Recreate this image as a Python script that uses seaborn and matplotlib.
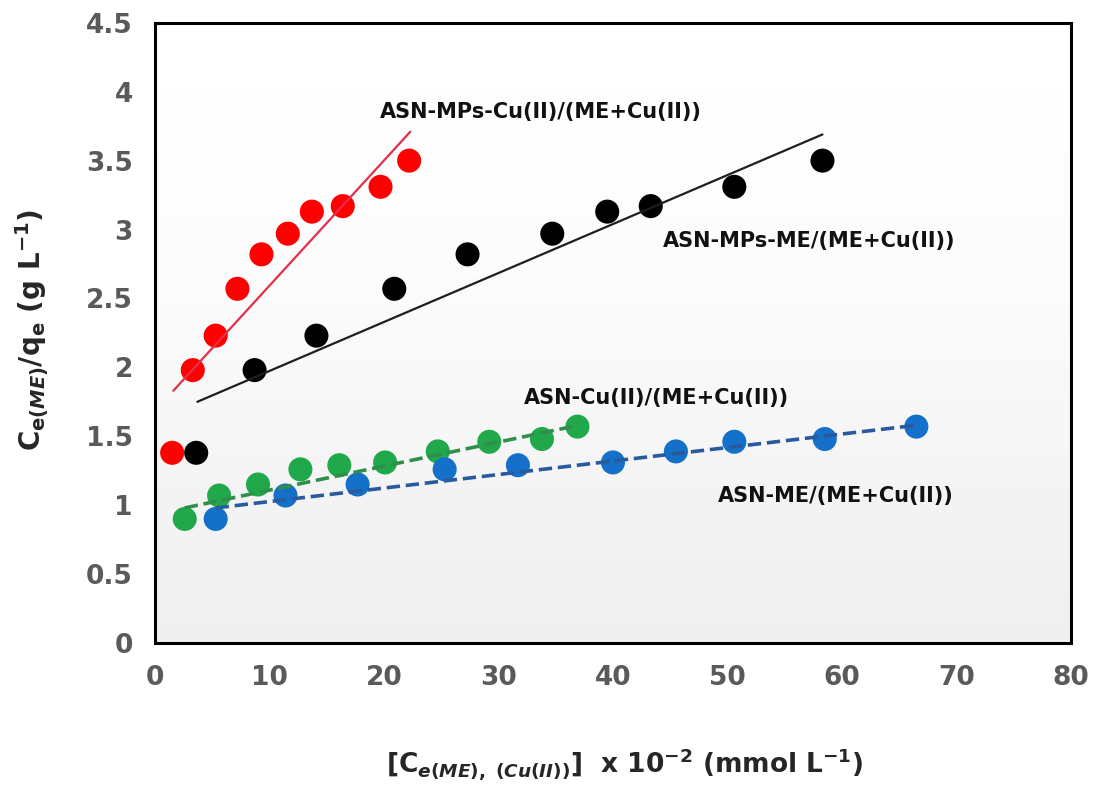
import numpy as np
import pandas as pd
import matplotlib
matplotlib.use("Agg")
import matplotlib.pyplot as plt
import seaborn as sns

# Ce/qe values (shared by the paired series)
y_mps = [1.38, 1.98, 2.23, 2.57, 2.82, 2.97, 3.13, 3.17, 3.31, 3.50]
y_asn = [0.90, 1.07, 1.15, 1.26, 1.29, 1.31, 1.39, 1.46, 1.48, 1.57]

x_mps_cu = [1.5, 3.3, 5.3, 7.2, 9.3, 11.6, 13.7, 16.4, 19.7, 22.2]
x_mps_me = [3.6, 8.7, 14.1, 20.9, 27.3, 34.7, 39.5, 43.3, 50.6, 58.3]
x_asn_cu = [2.6, 5.6, 9.0, 12.7, 16.1, 20.1, 24.7, 29.2, 33.8, 36.9]
x_asn_me = [5.3, 11.4, 17.7, 25.3, 31.7, 40.0, 45.5, 50.6, 58.5, 66.5]

# end points of the linear fits as drawn
fit_mps_cu_x, fit_mps_cu_y = [1.6, 22.3], [1.83, 3.71]
fit_mps_me_x, fit_mps_me_y = [3.7, 58.3], [1.75, 3.69]
fit_asn_cu_x, fit_asn_cu_y = [2.6, 37.0], [0.98, 1.58]
fit_asn_me_x, fit_asn_me_y = [5.3, 66.5], [0.98, 1.58]

labels = ["ASN-MPs-Cu(II)/(ME+Cu(II))", "ASN-MPs-ME/(ME+Cu(II))",
          "ASN-Cu(II)/(ME+Cu(II))", "ASN-ME/(ME+Cu(II))"]
label_x = [19.6, 44.4, 32.2, 49.2]
label_y = [3.85, 2.92, 1.78, 1.07]

sns.set_style("white")
plt.rcParams["font.family"] = ["DejaVu Sans"]
plt.rcParams["mathtext.fontset"] = "custom"
plt.rcParams["mathtext.rm"] = "DejaVu Sans:bold"
plt.rcParams["mathtext.it"] = "DejaVu Sans:bold:italic"
plt.rcParams["mathtext.bf"] = "DejaVu Sans:bold"

fig = plt.figure(figsize=(10.93, 7.87), dpi=100)
ax = fig.add_axes([0.1418, 0.183, 0.838, 0.788])

# soft white-to-grey background of the plot area
grad = np.concatenate([np.linspace(0.935, 0.985, 60), np.linspace(0.985, 1.0, 40)])
ax.imshow(grad[:, None], extent=[0, 1, 0, 1], transform=ax.transAxes,
          cmap="gray", vmin=0, vmax=1, aspect="auto", origin="lower", zorder=0)

series = [
    (x_mps_cu, y_mps, fit_mps_cu_x, fit_mps_cu_y, "#ff0000", "#e2304a", "-"),
    (x_mps_me, y_mps, fit_mps_me_x, fit_mps_me_y, "#000000", "#1e1e1e", "-"),
    (x_asn_cu, y_asn, fit_asn_cu_x, fit_asn_cu_y, "#20a84a", "#2f8f4a", "--"),
    (x_asn_me, y_asn, fit_asn_me_x, fit_asn_me_y, "#1470c8", "#2a5a9e", "--"),
]

for xs, ys, fx, fy, mc, lc, ls in series:
    fit = pd.DataFrame({"x": fx, "y": fy})
    sns.lineplot(data=fit, x="x", y="y", ax=ax, color=lc,
                 linestyle=ls, linewidth=1.6 if ls == "-" else 2.6, zorder=3)
    pts = pd.DataFrame({"x": xs, "y": ys})
    sns.scatterplot(data=pts, x="x", y="y", ax=ax, color=mc, s=300,
                    edgecolor="none", zorder=2)

for t, lx, ly in zip(labels, label_x, label_y):
    ax.text(lx, ly, t, fontsize=15, fontweight="bold", color="#111111",
            ha="left", va="center", zorder=5)

ax.set_xlim(0, 80)
ax.set_ylim(0, 4.5)
ax.set_xticks(np.arange(0, 81, 10))
ax.set_yticks(np.arange(0, 4.51, 0.5))
ax.set_yticklabels(["0", "0.5", "1", "1.5", "2", "2.5", "3", "3.5", "4", "4.5"])

for sp in ax.spines.values():
    sp.set_visible(True)
    sp.set_color("black")
    sp.set_linewidth(2.2)

ax.tick_params(axis="both", direction="out", length=8, width=2,
               color="black", labelcolor="#5a5a5a", labelsize=19, pad=8)
for lab in ax.get_xticklabels() + ax.get_yticklabels():
    lab.set_fontweight("bold")

ax.set_xlabel(r"[$\mathrm{C}_{e(ME),\ (Cu(II))}$]  x 10$^{\mathrm{-2}}$ (mmol L$^{\mathrm{-1}}$)",
              fontsize=19, fontweight="bold")
ax.set_ylabel(r"$\mathrm{C}_{\mathrm{e}(ME)}$/$\mathrm{q}_{\mathrm{e}}$ (g L$^{\mathrm{-1}}$)",
              fontsize=20, fontweight="bold")
ax.xaxis.set_label_coords(0.513, -0.168)
ax.yaxis.set_label_coords(-0.112, 0.505)

fig.savefig("out.png", dpi=100)
